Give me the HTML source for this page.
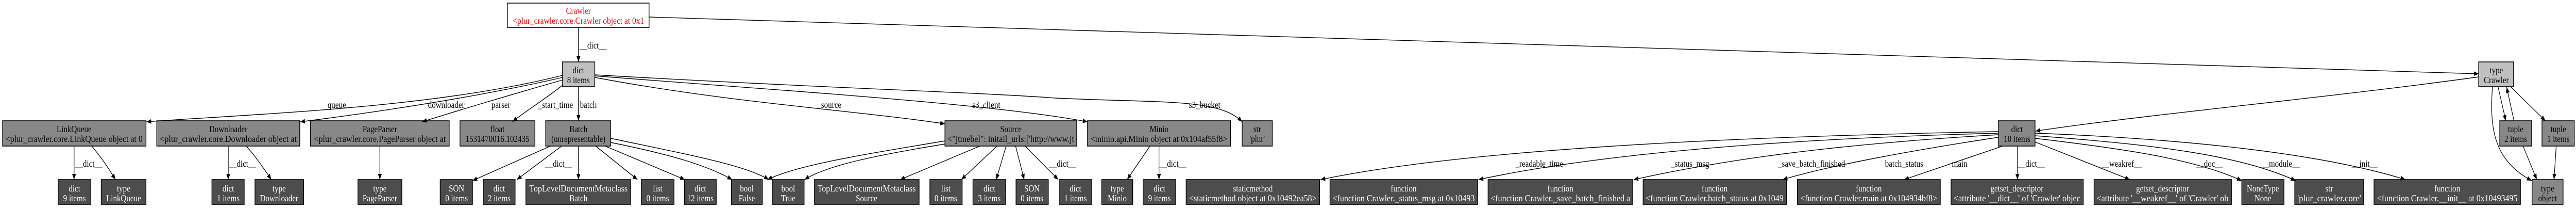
<!DOCTYPE html>
<html><head><meta charset="utf-8"><style>
html,body{margin:0;padding:0;background:#fff;width:100%;height:100%;overflow:hidden}
svg{display:block;position:absolute;left:0;top:0;width:100vw;height:100vh}
text{font-family:"Liberation Serif",serif;font-size:18px;text-anchor:middle}
.w{fill:#fff}
.e{fill:none;stroke:#000;stroke-width:1.4;marker-end:url(#a)}
.l{font-size:17px}
</style></head><body>
<svg viewBox="0 0 5981 403" preserveAspectRatio="none" xmlns="http://www.w3.org/2000/svg">
<defs><marker id="a" markerUnits="userSpaceOnUse" markerWidth="12" markerHeight="10" refX="11" refY="4.5" orient="auto"><path d="M0,0 L11,4.5 L0,9 z" fill="#000"/></marker></defs>
<g stroke="#000" stroke-width="1.6">
<rect x="1178" y="6" width="329" height="47" fill="#fff"/>
<rect x="1306" y="120" width="75" height="48" fill="#c0c0c0"/>
<rect x="5755" y="120" width="81" height="48" fill="#c0c0c0"/>
<rect x="6" y="234" width="333" height="49" fill="#888"/>
<rect x="364" y="234" width="332" height="49" fill="#888"/>
<rect x="721" y="234" width="322" height="49" fill="#888"/>
<rect x="1068" y="234" width="174" height="49" fill="#888"/>
<rect x="1267" y="234" width="151" height="49" fill="#888"/>
<rect x="2194" y="234" width="306" height="49" fill="#888"/>
<rect x="2525" y="234" width="332" height="49" fill="#888"/>
<rect x="2884" y="234" width="70" height="49" fill="#888"/>
<rect x="4640" y="234" width="85" height="49" fill="#888"/>
<rect x="5804" y="234" width="74" height="49" fill="#888"/>
<rect x="5902" y="234" width="75" height="49" fill="#888"/>
<g fill="#4d4d4d">
<rect x="135" y="348" width="76" height="48"/>
<rect x="235" y="348" width="104" height="48"/>
<rect x="492" y="348" width="75" height="48"/>
<rect x="592" y="348" width="113" height="48"/>
<rect x="831" y="348" width="102" height="48"/>
<rect x="1022" y="348" width="75" height="48"/>
<rect x="1122" y="348" width="74" height="48"/>
<rect x="1221" y="348" width="243" height="48"/>
<rect x="1489" y="348" width="76" height="48"/>
<rect x="1589" y="348" width="74" height="48"/>
<rect x="1698" y="348" width="72" height="48"/>
<rect x="1794" y="348" width="73" height="48"/>
<rect x="1891" y="348" width="243" height="48"/>
<rect x="2159" y="348" width="75" height="48"/>
<rect x="2259" y="348" width="76" height="48"/>
<rect x="2359" y="348" width="75" height="48"/>
<rect x="2459" y="348" width="76" height="48"/>
<rect x="2558" y="348" width="72" height="48"/>
<rect x="2654" y="348" width="76" height="48"/>
<rect x="2754" y="348" width="310" height="48"/>
<rect x="3088" y="348" width="343" height="48"/>
<rect x="3455" y="348" width="336" height="48"/>
<rect x="3815" y="348" width="333" height="48"/>
<rect x="4173" y="348" width="332" height="48"/>
<rect x="4530" y="348" width="307" height="48"/>
<rect x="4862" y="348" width="319" height="48"/>
<rect x="5205" y="348" width="98" height="48"/>
<rect x="5328" y="348" width="160" height="48"/>
<rect x="5512" y="348" width="340" height="48"/>
</g>
<rect x="5879" y="348" width="72" height="48" fill="#888"/>
</g>

<g>
<path class="e" d="M1343,53 L1343,120"/>
<path class="e" d="M1507,33 L5755,143"/>
<path class="e" d="M1306,146 C1000,210 600,220 340,236"/>
<path class="e" d="M1306,150 C1100,190 850,220 697,236"/>
<path class="e" d="M1306,155 C1200,180 1060,215 980,236"/>
<path class="e" d="M1306,165 C1270,190 1220,215 1190,236"/>
<path class="e" d="M1343,168 L1343,234"/>
<path class="e" d="M1381,150 C1700,200 2000,215 2194,240"/>
<path class="e" d="M1381,147 C1800,175 2300,200 2525,236"/>
<path class="e" d="M1381,145 C1900,170 2300,180 2450,190 C2700,200 2830,190 2884,236"/>
<path class="e" d="M5755,149 C5400,190 5000,220 4726,254"/>
<path class="e" d="M5800,168 L5818,234"/>
<path class="e" d="M5837,234 L5820,169"/>
<path class="e" d="M5829,168 L5910,234"/>
<path class="e" d="M5787,168 C5780,250 5790,310 5878,350"/>
<path class="e" d="M5858,283 L5890,348"/>
<path class="e" d="M5935,283 L5930,348"/>
<path class="e" d="M172,283 L172,348"/>
<path class="e" d="M213,283 C240,310 255,330 268,348"/>
<path class="e" d="M530,283 L530,348"/>
<path class="e" d="M572,283 C600,310 615,330 630,348"/>
<path class="e" d="M882,283 L882,348"/>
<path class="e" d="M1278,283 L1097,350"/>
<path class="e" d="M1304,283 L1200,348"/>
<path class="e" d="M1343,283 L1343,348"/>
<path class="e" d="M1383,283 L1480,348"/>
<path class="e" d="M1405,283 L1590,348"/>
<path class="e" d="M1418,276 C1560,300 1640,320 1700,348"/>
<path class="e" d="M1418,268 C1600,300 1730,320 1785,348"/>
<path class="e" d="M2194,273 C2000,300 1850,320 1782,348"/>
<path class="e" d="M2194,279 C2040,300 1920,320 1868,348"/>
<path class="e" d="M2275,283 L2090,348"/>
<path class="e" d="M2315,283 L2232,348"/>
<path class="e" d="M2336,283 L2313,348"/>
<path class="e" d="M2358,283 L2378,348"/>
<path class="e" d="M2380,283 L2457,348"/>
<path class="e" d="M2670,283 L2617,348"/>
<path class="e" d="M2691,283 L2691,348"/>
<path class="e" d="M4640,255 C4000,265 3400,290 3066,348"/>
<path class="e" d="M4640,258 C4100,270 3700,300 3433,348"/>
<path class="e" d="M4640,261 C4250,280 4000,310 3793,348"/>
<path class="e" d="M4640,266 C4450,290 4250,320 4139,348"/>
<path class="e" d="M4650,283 L4421,348"/>
<path class="e" d="M4684,283 L4684,348"/>
<path class="e" d="M4725,275 L4945,348"/>
<path class="e" d="M4725,268 C4950,290 5100,310 5205,350"/>
<path class="e" d="M4725,263 C5000,280 5200,300 5330,350"/>
<path class="e" d="M4725,258 C5100,270 5400,300 5585,348"/>
</g>

<g fill="#f00"><text x="1343" y="27">Crawler</text><text x="1343" y="46" textLength="305" lengthAdjust="spacingAndGlyphs">&lt;plur_crawler.core.Crawler object at 0x1</text></g>
<text x="1343" y="142">dict</text><text x="1343" y="161">8 items</text>
<text x="5796" y="142">type</text><text x="5796" y="161">Crawler</text>

<text x="172" y="256">LinkQueue</text><text x="172" y="275" textLength="318" lengthAdjust="spacingAndGlyphs">&lt;plur_crawler.core.LinkQueue object at 0</text>
<text x="530" y="256">Downloader</text><text x="530" y="275" textLength="318" lengthAdjust="spacingAndGlyphs">&lt;plur_crawler.core.Downloader object at</text>
<text x="882" y="256">PageParser</text><text x="882" y="275" textLength="306" lengthAdjust="spacingAndGlyphs">&lt;plur_crawler.core.PageParser object at</text>
<text x="1155" y="256">float</text><text x="1155" y="275">1531470016.102435</text>
<text x="1343" y="256">Batch</text><text x="1343" y="275">(unrepresentable)</text>
<text x="2347" y="256">Source</text><text x="2347" y="275" textLength="294" lengthAdjust="spacingAndGlyphs">&lt;"jtmebel": initail_urls:['http://www.jt</text>
<text x="2691" y="256">Minio</text><text x="2691" y="275" textLength="318" lengthAdjust="spacingAndGlyphs">&lt;minio.api.Minio object at 0x104af55f8&gt;</text>
<text x="2919" y="256">str</text><text x="2919" y="275">'plur'</text>
<text x="4683" y="256">dict</text><text x="4683" y="275">10 items</text>
<text x="5841" y="256">tuple</text><text x="5841" y="275">2 items</text>
<text x="5940" y="256">tuple</text><text x="5940" y="275">1 items</text>

<g class="w">
<text x="173" y="371">dict</text><text x="173" y="390">9 items</text>
<text x="287" y="371">type</text><text x="287" y="390">LinkQueue</text>
<text x="530" y="371">dict</text><text x="530" y="390">1 items</text>
<text x="648" y="371">type</text><text x="648" y="390">Downloader</text>
<text x="882" y="371">type</text><text x="882" y="390">PageParser</text>
<text x="1060" y="371">SON</text><text x="1060" y="390">0 items</text>
<text x="1159" y="371">dict</text><text x="1159" y="390">2 items</text>
<text x="1343" y="371" textLength="228" lengthAdjust="spacingAndGlyphs">TopLevelDocumentMetaclass</text><text x="1343" y="390">Batch</text>
<text x="1527" y="371">list</text><text x="1527" y="390">0 items</text>
<text x="1626" y="371">dict</text><text x="1626" y="390">12 items</text>
<text x="1734" y="371">bool</text><text x="1734" y="390">False</text>
<text x="1830" y="371">bool</text><text x="1830" y="390">True</text>
<text x="2012" y="371" textLength="228" lengthAdjust="spacingAndGlyphs">TopLevelDocumentMetaclass</text><text x="2012" y="390">Source</text>
<text x="2196" y="371">list</text><text x="2196" y="390">0 items</text>
<text x="2297" y="371">dict</text><text x="2297" y="390">3 items</text>
<text x="2396" y="371">SON</text><text x="2396" y="390">0 items</text>
<text x="2497" y="371">dict</text><text x="2497" y="390">1 items</text>
<text x="2594" y="371">type</text><text x="2594" y="390">Minio</text>
<text x="2692" y="371">dict</text><text x="2692" y="390">9 items</text>
<text x="2909" y="371">staticmethod</text><text x="2909" y="390" textLength="296" lengthAdjust="spacingAndGlyphs">&lt;staticmethod object at 0x10492ea58&gt;</text>
<text x="3259" y="371">function</text><text x="3259" y="390" textLength="330" lengthAdjust="spacingAndGlyphs">&lt;function Crawler._status_msg at 0x10493</text>
<text x="3623" y="371">function</text><text x="3623" y="390" textLength="324" lengthAdjust="spacingAndGlyphs">&lt;function Crawler._save_batch_finished a</text>
<text x="3981" y="371">function</text><text x="3981" y="390" textLength="320" lengthAdjust="spacingAndGlyphs">&lt;function Crawler.batch_status at 0x1049</text>
<text x="4339" y="371">function</text><text x="4339" y="390" textLength="318" lengthAdjust="spacingAndGlyphs">&lt;function Crawler.main at 0x104934bf8&gt;</text>
<text x="4683" y="371">getset_descriptor</text><text x="4683" y="390" textLength="294" lengthAdjust="spacingAndGlyphs">&lt;attribute '__dict__' of 'Crawler' objec</text>
<text x="5021" y="371">getset_descriptor</text><text x="5021" y="390" textLength="306" lengthAdjust="spacingAndGlyphs">&lt;attribute '__weakref__' of 'Crawler' ob</text>
<text x="5254" y="371">NoneType</text><text x="5254" y="390">None</text>
<text x="5408" y="371">str</text><text x="5408" y="390" textLength="148" lengthAdjust="spacingAndGlyphs">'plur_crawler.core'</text>
<text x="5682" y="371">function</text><text x="5682" y="390" textLength="326" lengthAdjust="spacingAndGlyphs">&lt;function Crawler.__init__ at 0x10493495</text>
</g>
<text x="5915" y="371">type</text><text x="5915" y="390">object</text>

<g class="l">
<text x="1377" y="94">__dict__</text>
<text x="782" y="209">queue</text>
<text x="1036" y="209">downloader</text>
<text x="1163" y="209">parser</text>
<text x="1290" y="209">_start_time</text>
<text x="1366" y="209">batch</text>
<text x="1930" y="209">source</text>
<text x="2290" y="209">s3_client</text>
<text x="2797" y="209">s3_bucket</text>
<text x="206" y="323">__dict__</text>
<text x="563" y="323">__dict__</text>
<text x="1297" y="323">__dict__</text>
<text x="2467" y="323">__dict__</text>
<text x="2723" y="323">__dict__</text>
<text x="3574" y="323">_readable_time</text>
<text x="3924" y="323">_status_msg</text>
<text x="4206" y="323">_save_batch_finished</text>
<text x="4421" y="323">batch_status</text>
<text x="4550" y="323">main</text>
<text x="4716" y="323">__dict__</text>
<text x="4926" y="323">__weakref__</text>
<text x="5130" y="323">__doc__</text>
<text x="5295" y="323">__module__</text>
<text x="5490" y="323">__init__</text>
</g>
</svg>
</body></html>
